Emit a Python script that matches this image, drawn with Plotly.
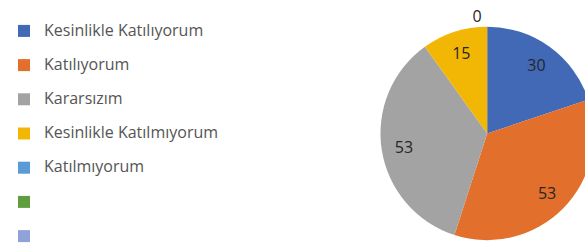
import plotly.graph_objects as go

labels = ["Kesinlikle Katılıyorum", "Katılıyorum", "Kararsızım",
          "Kesinlikle Katılmıyorum", "Katılmıyorum", " ", "  "]
values = [30, 53, 53, 15, 0, 0, 0]
shown = [True, True, True, True, True, False, False]
colors = ["#4169B6", "#E2702C", "#A3A3A3", "#F2B705", "#5B9BD5", "#5E9E3C", "#8FA3DA"]

texts = [str(v) if s else "" for v, s in zip(values, shown)]
positions = ["outside" if v == 0 else "inside" for v in values]
# blank first line gives the roomy row spacing; the label itself is drawn larger
legend_labels = [" <br><span style='font-size:16px'>" + l + "</span>" for l in labels]

W, H = 600, 251
dom = dict(x=[380 / W, 596 / W], y=[11 / H, 227 / H])

fig = go.Figure()
# coloured pie (provides the slices and the legend)
fig.add_trace(go.Pie(
    labels=legend_labels,
    values=values,
    textinfo="none",
    sort=False,
    direction="clockwise",
    rotation=0,
    marker=dict(colors=colors, line=dict(width=0)),
    domain=dom,
    hoverinfo="none",
))
# transparent ring on top, only to place the data labels further out
fig.add_trace(go.Pie(
    labels=legend_labels,
    values=values,
    text=texts,
    textinfo="text",
    textposition=positions,
    insidetextorientation="horizontal",
    textfont=dict(family="Open Sans", size=16, color="#262626"),
    hole=0.58,
    sort=False,
    direction="clockwise",
    rotation=0,
    marker=dict(colors=["rgba(0,0,0,0)"] * len(values), line=dict(width=0)),
    domain=dom,
    hoverinfo="none",
    showlegend=False,
))

fig.update_layout(
    width=W, height=H,
    margin=dict(l=0, r=0, t=0, b=0),
    paper_bgcolor="white",
    showlegend=True,
    legend=dict(
        x=4 / W, y=1 - 6 / H, xanchor="left", yanchor="top",
        font=dict(family="Open Sans", size=12, color="#555555"),
        valign="bottom",
        itemwidth=30,
        maxheight=400,
    ),
)

fig.write_html(
    "out.html",
    config={"displayModeBar": False},
    post_script="document.body.style.margin='0';document.body.style.overflow='hidden';document.documentElement.style.overflow='hidden';",
)
